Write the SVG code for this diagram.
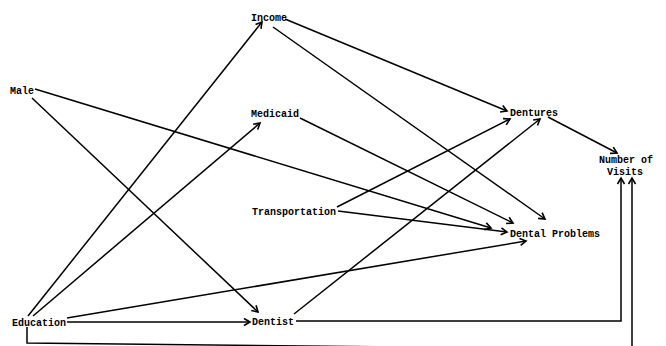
<svg xmlns="http://www.w3.org/2000/svg" width="666" height="346" viewBox="0 0 666 346">
  <style>
    .lbl { font-family: "Liberation Mono", "DejaVu Sans Mono", monospace; font-size: 10px; font-weight: bold; fill: #000; }
    .edge { fill: none; stroke: #000; stroke-width: 1.5; marker-end: url(#arrow); }
  </style>
  <defs>
    <marker id="arrow" markerUnits="userSpaceOnUse" markerWidth="10" markerHeight="10" viewBox="-8 -5 10 10" refX="0" refY="0" orient="auto">
      <path d="M-6,-3.5 L0,0 L-6,3.5" fill="none" stroke="#000" stroke-width="1.6"/>
    </marker>
  </defs>
  <rect width="666" height="346" fill="#fff"/>

  <g id="connectors">
    <line class="edge" x1="28" y1="316" x2="262" y2="22"/>
    <line class="edge" x1="33" y1="316" x2="260" y2="123"/>
    <line class="edge" x1="67" y1="318" x2="526" y2="241"/>
    <line class="edge" x1="67" y1="322" x2="250" y2="322"/>
    <!-- Education to Number of Visits: runs along the bottom edge, partly off the sheet -->
    <path class="edge" d="M27,327 V343 L632,349.5 V178"/>
    <path class="edge" d="M296,321 H621 V178"/>
    <line class="edge" x1="294" y1="314" x2="540" y2="119"/>
    <line class="edge" x1="337" y1="207" x2="510" y2="119"/>
    <line class="edge" x1="338" y1="211" x2="507" y2="232"/>
    <line class="edge" x1="285" y1="19" x2="507" y2="111"/>
    <line class="edge" x1="273" y1="27" x2="545" y2="219"/>
    <line class="edge" x1="300" y1="118" x2="513" y2="223"/>
    <line class="edge" x1="35" y1="89" x2="491" y2="228"/>
    <line class="edge" x1="32" y1="98" x2="258" y2="312"/>
    <line class="edge" x1="548" y1="117" x2="617" y2="153"/>
  </g>

  <g id="income"><text class="lbl" x="251" y="21">Income</text></g>
  <g id="male"><text class="lbl" x="10" y="94">Male</text></g>
  <g id="medicaid"><text class="lbl" x="251" y="117">Medicaid</text></g>
  <g id="dentures"><text class="lbl" x="510" y="116">Dentures</text></g>
  <g id="visits">
    <text class="lbl" x="599" y="163">Number of</text>
    <text class="lbl" x="625" y="175" text-anchor="middle">Visits</text>
  </g>
  <g id="transportation"><text class="lbl" x="252" y="215">Transportation</text></g>
  <g id="dental-problems"><text class="lbl" x="510" y="237">Dental Problems</text></g>
  <g id="education"><text class="lbl" x="12" y="326">Education</text></g>
  <g id="dentist"><text class="lbl" x="252" y="325">Dentist</text></g>
</svg>
